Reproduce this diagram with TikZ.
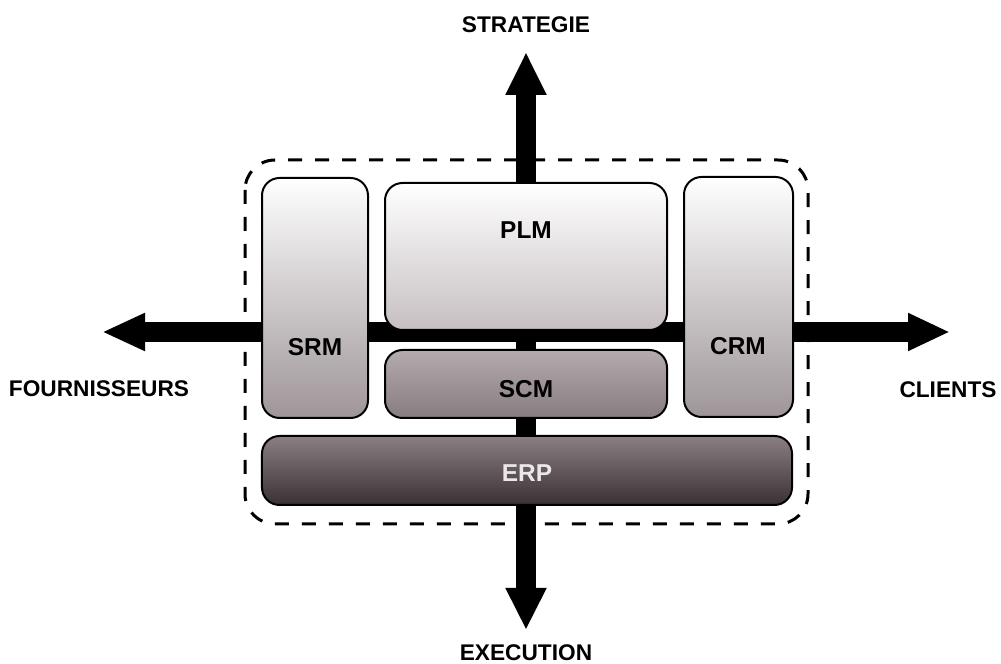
\documentclass[tikz,border=0pt]{standalone}
\usepackage{fontspec}
\setmainfont{Liberation Sans}
\usetikzlibrary{arrows.meta}

\tikzset{
  block/.style={draw=black, line width=0.4mm, rounded corners=3.5mm, inner sep=0pt},
  axis/.style={line width=4mm, black},
  axislabel/.style={font=\fontsize{12.9}{15}\selectfont\bfseries},
  blocklabel/.style={font=\fontsize{13.9}{16}\selectfont\bfseries},
}

\begin{document}
\begin{tikzpicture}[x=0.2mm, y=-0.2mm]
      \useasboundingbox (0,0) rectangle (1001,664);

      % axes behind the blocks
      \coordinate (west) at (102,332);
      \coordinate (east) at (950,332);
      \coordinate (north) at (526,52);
      \coordinate (south) at (526,630);
      \draw [axis, {Triangle[length=8.6mm, width=7mm]}-{Triangle[length=8.4mm, width=7mm]}] (west) -- (east);
      \draw [axis, {Triangle[length=8.6mm, width=7.6mm]}-{Triangle[length=8.4mm, width=7.6mm]}] (north) -- (south);

      \node[axislabel](strategie) at (526, 25){STRATEGIE};
      \node[axislabel](execution) at (526, 653){EXECUTION};
      \node[axislabel](fournisseurs) at (99, 389){FOURNISSEURS};
      \node[axislabel](clients) at (948, 390){CLIENTS};

      % dashed frame
      \draw [line width=0.6mm, dash pattern=on 2.8mm off 2.6mm, rounded corners=6mm] (245,160) rectangle (808,524);

      % blocks
      \node[block, minimum width=21.2mm, minimum height=48mm, top color=white, bottom color={rgb,255:red,158;green,149;blue,153}](srm) at (315,298){};
      \node[block, minimum width=21.8mm, minimum height=48mm, top color=white, bottom color={rgb,255:red,158;green,149;blue,153}](crm) at (738.5,297){};
      \node[block, minimum width=56.4mm, minimum height=29.4mm, top color=white, bottom color={rgb,255:red,198;green,191;blue,194}](plm) at (526,256.5){};
      \node[block, minimum width=56.4mm, minimum height=13.6mm, top color={rgb,255:red,180;green,171;blue,174}, bottom color={rgb,255:red,135;green,124;blue,128}](scm) at (526,384){};
      \node[block, minimum width=106mm, minimum height=13.8mm, top color={rgb,255:red,138;green,127;blue,131}, bottom color={rgb,255:red,59;green,49;blue,53}](erp) at (527,470.5){};

      \node[blocklabel](plmlabel) at (526, 230){PLM};
      \node[blocklabel](srmlabel) at (315, 347){SRM};
      \node[blocklabel](crmlabel) at (738, 346){CRM};
      \node[blocklabel](scmlabel) at (526, 389){SCM};
      \node[blocklabel, text={rgb,255:red,236;green,232;blue,234}](erplabel) at (527, 473){ERP};
\end{tikzpicture}
\end{document}
